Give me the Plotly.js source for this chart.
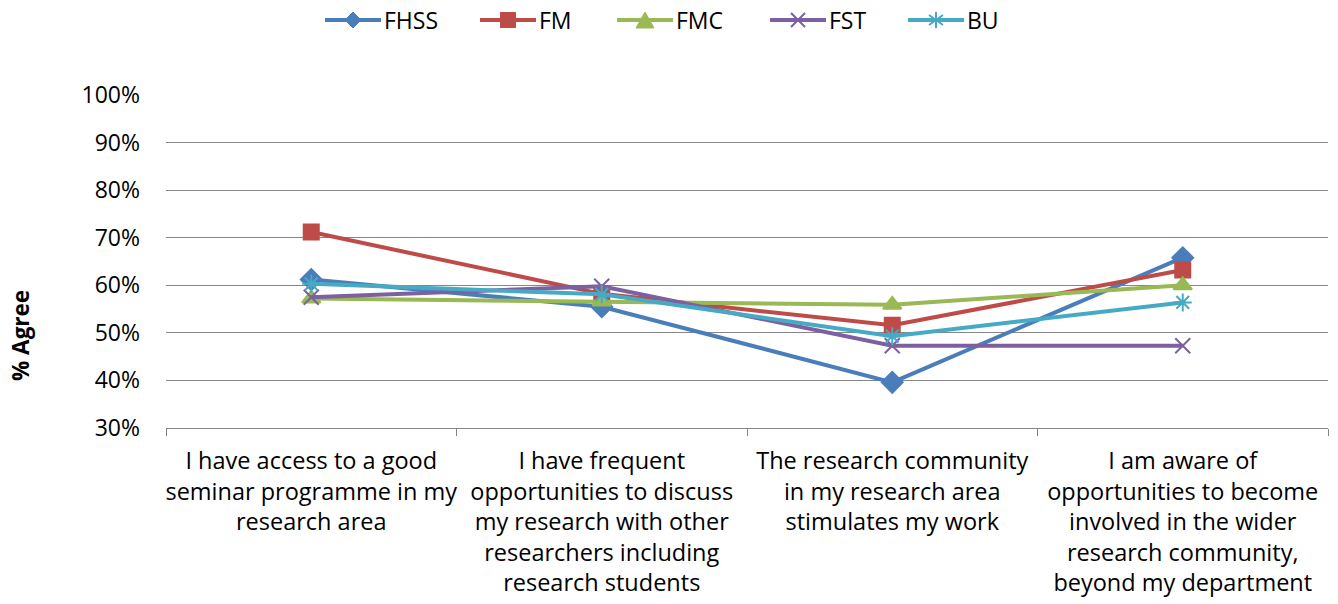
<!DOCTYPE html>
<html><head><meta charset="utf-8">
<script src="https://cdn.plot.ly/plotly-3.0.1.min.js"></script>
<style>html,body{margin:0;padding:0;background:#fff}#chart{width:1338px;height:604px}</style>
</head><body><div id="chart"></div>
<script>
const categories = [
  "I have access to a good<br>seminar programme in my<br>research area",
  "I have frequent<br>opportunities to discuss<br>my research with other<br>researchers including<br>research students",
  "The research community<br>in my research area<br>stimulates my work",
  "I am aware of<br>opportunities to become<br>involved in the wider<br>research community,<br>beyond my department"
];
const FHSS = [61.2, 55.5, 39.6, 65.8];
const FM   = [71.2, 58.2, 51.6, 63.2];
const FMC  = [57.2, 56.6, 55.9, 60.0];
const FST  = [57.5, 59.8, 47.3, 47.3];
const BU   = [60.3, 58.1, 49.3, 56.4];

const names   = ["FHSS","FM","FMC","FST","BU"];
const series  = [FHSS, FM, FMC, FST, BU];
const colors  = ["#4A7EBB","#BE4B48","#98B954","#7D60A0","#46AAC5"];
const symbols = ["diamond","square","triangle-up","x-thin-open","asterisk-open"];
const sizes   = [16, 15, 16, 15, 15];

const traces = series.map((s,i)=>({
  type:"scatter", mode:"lines+markers", name:names[i],
  x:categories, y:s, showlegend:false,
  line:{color:colors[i], width:4},
  marker:{symbol:symbols[i], size:sizes[i], color:colors[i], line:{color:colors[i], width:2}}
}));

// ---- custom legend (layout only) ----
const W = 1338, H = 604, L = 166, R = 10, T = 95, B = 176;
const pw = W - L - R, ph = H - T - B;
const px = x => (x - L) / pw;
const py = y => (H - B - y) / ph;
const legendStart = [325, 480, 617, 770, 908];
const legendY = 20, lineLen = 56;
const shapes = [], annotations = [];
function poly(pts){ return "M" + pts.map(p => px(p[0]) + "," + py(p[1])).join("L") + "Z"; }
function seg(a,b){ return "M" + px(a[0]) + "," + py(a[1]) + "L" + px(b[0]) + "," + py(b[1]); }
names.forEach((n,i)=>{
  const x0 = legendStart[i], cx = x0 + lineLen/2, cy = legendY, c = colors[i];
  shapes.push({type:"line", xref:"paper", yref:"paper", x0:px(x0), x1:px(x0+lineLen), y0:py(cy), y1:py(cy),
               line:{color:c, width:4}});
  let path, filled = true;
  if (symbols[i] === "diamond") path = poly([[cx,cy-8],[cx+8,cy],[cx,cy+8],[cx-8,cy]]);
  else if (symbols[i] === "square") path = poly([[cx-7.5,cy-7.5],[cx+7.5,cy-7.5],[cx+7.5,cy+7.5],[cx-7.5,cy+7.5]]);
  else if (symbols[i] === "triangle-up") path = poly([[cx,cy-8],[cx+9,cy+8],[cx-9,cy+8]]);
  else if (symbols[i] === "x-thin-open") { filled = false; path = seg([cx-7,cy-7],[cx+7,cy+7]) + seg([cx-7,cy+7],[cx+7,cy-7]); }
  else { filled = false; path = seg([cx,cy-8],[cx,cy+8]) + seg([cx-7,cy-5],[cx+7,cy+5]) + seg([cx-7,cy+5],[cx+7,cy-5]); }
  shapes.push({type:"path", xref:"paper", yref:"paper", path:path,
               fillcolor: filled ? c : "rgba(0,0,0,0)", line:{color:c, width: filled ? 1 : 2}});
  annotations.push({text:n, xref:"paper", yref:"paper", x:px(x0+lineLen+1), y:py(cy),
                    xanchor:"left", yanchor:"middle", showarrow:false, font:{size:23}});
});
annotations.push({text:"<b>% Agree</b>", xref:"paper", yref:"paper", x:px(20), y:py(336),
                  textangle:-90, showarrow:false, font:{size:22.5}, xanchor:"center", yanchor:"middle"});

const layout = {
  width:W, height:H,
  margin:{l:L, r:R, t:T, b:B},
  paper_bgcolor:"#fff", plot_bgcolor:"#fff",
  font:{family:"Open Sans, sans-serif", size:22, color:"#000"},
  showlegend:false,
  xaxis:{type:"category", tickson:"boundaries", ticks:"outside", ticklen:7, tickcolor:"#868686",
         showline:true, linecolor:"#868686", linewidth:1, showgrid:false, tickfont:{size:23.5},
         tickangle:0, ticklabelstandoff:12, range:[-0.5,3.5]},
  yaxis:{range:[30,100], dtick:10, ticksuffix:"%", showgrid:true, gridcolor:"#868686", gridwidth:1,
         showline:false, ticks:"", zeroline:false, ticklabelstandoff:25,
         tickfont:{size:23}},
  shapes:shapes,
  annotations:annotations
};
Plotly.newPlot("chart", traces, layout, {displayModeBar:false});
</script></body></html>
